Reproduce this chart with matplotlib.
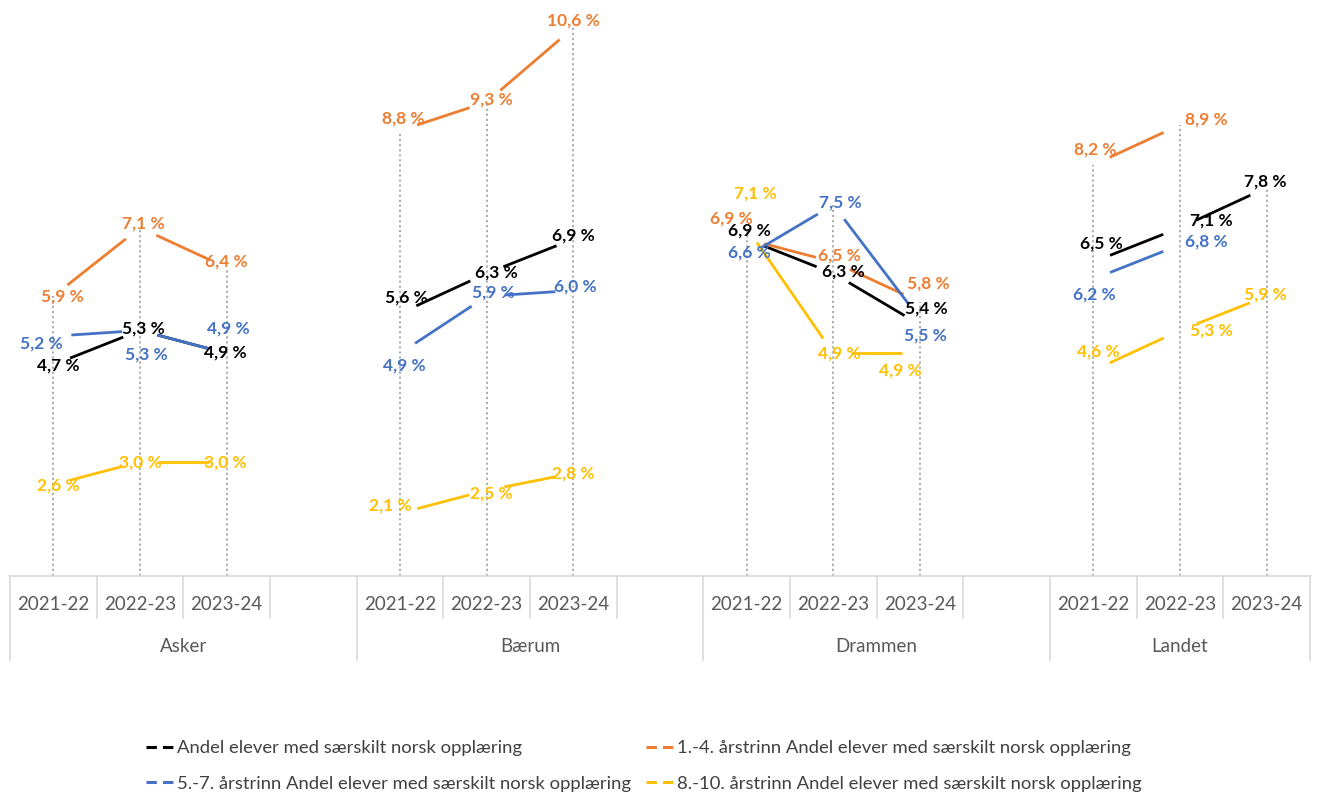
import numpy as np
import matplotlib
matplotlib.use("Agg")
import matplotlib.pyplot as plt
from matplotlib.lines import Line2D
from matplotlib.transforms import blended_transform_factory

# ---------------- data ----------------
groups = ["Asker", "Bærum", "Drammen", "Landet"]
years = ["2021-22", "2022-23", "2023-24"]
nan = np.nan
total = [[4.7, 5.3, 4.9], [5.6, 6.3, 6.9], [6.9, 6.3, 5.4], [6.5, 7.1, 7.8]]
trinn_1_4 = [[5.9, 7.1, 6.4], [8.8, 9.3, 10.6], [6.9, 6.5, 5.8], [8.2, 8.9, nan]]
trinn_5_7 = [[5.2, 5.3, 4.9], [4.9, 5.9, 6.0], [6.6, 7.5, 5.5], [6.2, 6.8, nan]]
trinn_8_10 = [[2.6, 3.0, 3.0], [2.1, 2.5, 2.8], [7.1, 4.9, 4.9], [4.6, 5.3, 5.9]]
series_names = [
    "Andel elever med særskilt norsk opplæring",
    "1.-4. årstrinn Andel elever med særskilt norsk opplæring",
    "5.-7. årstrinn Andel elever med særskilt norsk opplæring",
    "8.-10. årstrinn Andel elever med særskilt norsk opplæring",
]

# ---------------- styling ----------------
colors = ["#000000", "#ED7D31", "#4472C4", "#FFC000"]
# label offsets in pixels (dx, dy downward) per series / group / year
label_offsets = [
    [[(5, 1), (3, -2), (-1, -1)], [(6, -16), (10, -1), (0, -4)],
     [(3, -9), (10, -2), (6, -16)], [(8, -18), (31, -7), (-1, -6)]],
    [[(9, 0), (3, -4), (0, -6)], [(3, -12), (5, -3), (0, -7)],
     [(-15, -21), (6, -6), (8, -18)], [(2, -15), (26, -5), (0, 0)]],
    [[(-12, 7), (6, 24), (2, -25)], [(4, 12), (7, -4), (2, -4)],
     [(3, -4), (7, -2), (5, 16)], [(1, 15), (26, -3), (0, 0)]],
    [[(5, 1), (0, 1), (-1, 1)], [(-10, -8), (5, 3), (0, 0)],
     [(9, -34), (6, 0), (-20, 17)], [(5, -19), (31, 0), (-1, -2)]],
]
FONT = "Lato"
GAP = 18  # px gap of line segments at the points

W, H = 1318, 794
fig = plt.figure(figsize=(W / 100, H / 100), dpi=100)
ax_bottom, ax_top, ax_left, ax_right = 576, 5, 10, 1310
ax = fig.add_axes([ax_left / W, (H - ax_bottom) / H,
                   (ax_right - ax_left) / W, (ax_bottom - ax_top) / H])
ax.set_xlim(-0.5, 14.5)
ax.set_ylim(1, 11)
for s in ["left", "right", "top"]:
    ax.spines[s].set_visible(False)
ax.spines["bottom"].set_color("#D9D9D9")
ax.spines["bottom"].set_linewidth(1.2)
ax.set_xticks([])
ax.set_yticks([])

all_series = [total, trinn_1_4, trinn_5_7, trinn_8_10]

def xpos(g, j):
    return g * 4 + j

# drop lines
for g in range(len(groups)):
    for j in range(len(years)):
        vals = [s[g][j] for s in all_series if not np.isnan(s[g][j])]
        top = max(vals)
        ax.plot([xpos(g, j)] * 2, [1, top], color="#A6A6A6", lw=1.3,
                linestyle=(0, (1.2, 1.6)), zorder=1)

# lines with gaps at points
inv = ax.transData.inverted()
for si, s in enumerate(all_series):
    for g in range(len(groups)):
        for j in range(len(years) - 1):
            y1, y2 = s[g][j], s[g][j + 1]
            if np.isnan(y1) or np.isnan(y2):
                continue
            p1 = ax.transData.transform((xpos(g, j), y1))
            p2 = ax.transData.transform((xpos(g, j + 1), y2))
            d = p2 - p1
            L = np.hypot(*d)
            u = d / L
            q1 = inv.transform(p1 + u * GAP)
            q2 = inv.transform(p2 - u * GAP)
            ax.plot([q1[0], q2[0]], [q1[1], q2[1]], color=colors[si], lw=2.0,
                    solid_capstyle="butt", zorder=2 + si)

# data labels
for si, s in enumerate(all_series):
    for g in range(len(groups)):
        for j in range(len(years)):
            v = s[g][j]
            if np.isnan(v):
                continue
            dx, dy = label_offsets[si][g][j]
            txt = f"{v:.1f}".replace(".", ",") + " %"
            ax.annotate(txt, (xpos(g, j), v), xytext=(dx, -dy),
                        textcoords="offset pixels", ha="center", va="center",
                        fontsize=12.5, fontweight="bold", color=colors[si],
                        family=FONT, zorder=10)

# multi-level category axis
trans = blended_transform_factory(ax.transData, ax.transAxes)
axh = ax_bottom - ax_top
short_len = 42 / axh
long_len = 84 / axh
long_bounds = [-0.5, 3.5, 7.5, 11.5, 14.5]
for k in range(16):
    b = -0.5 + k
    length = long_len if b in long_bounds else short_len
    ax.plot([b, b], [0, -length], transform=trans, color="#D9D9D9", lw=1.2,
            clip_on=False)
for g in range(len(groups)):
    for j in range(len(years)):
        ax.text(xpos(g, j), -(605 - ax_bottom) / axh, years[j], transform=trans,
                ha="center", va="center", fontsize=13.5, color="#595959",
                family=FONT)
group_centers = [1.5, 5.5, 9.5, 13.0]
for g, name in enumerate(groups):
    ax.text(group_centers[g], -(646 - ax_bottom) / axh, name, transform=trans,
            ha="center", va="center", fontsize=13.5, color="#595959",
            family=FONT)

# legend (column-major fill -> reorder so rows read: black, orange / blue, yellow)
order = [0, 2, 1, 3]
handles = [Line2D([], [], color=colors[i], lw=2.2, linestyle=(0, (3.4, 2.0)))
           for i in order]
labels = [series_names[i] for i in order]
leg = fig.legend(handles, labels, ncol=2, loc="center",
                 bbox_to_anchor=(644 / W, (H - 766) / H), frameon=False,
                 prop={"family": FONT, "size": 13.3}, handlelength=1.45,
                 handletextpad=0.25, columnspacing=0.8, labelspacing=1.05)
for t in leg.get_texts():
    t.set_color("#404040")

fig.savefig("out.png", dpi=100)
